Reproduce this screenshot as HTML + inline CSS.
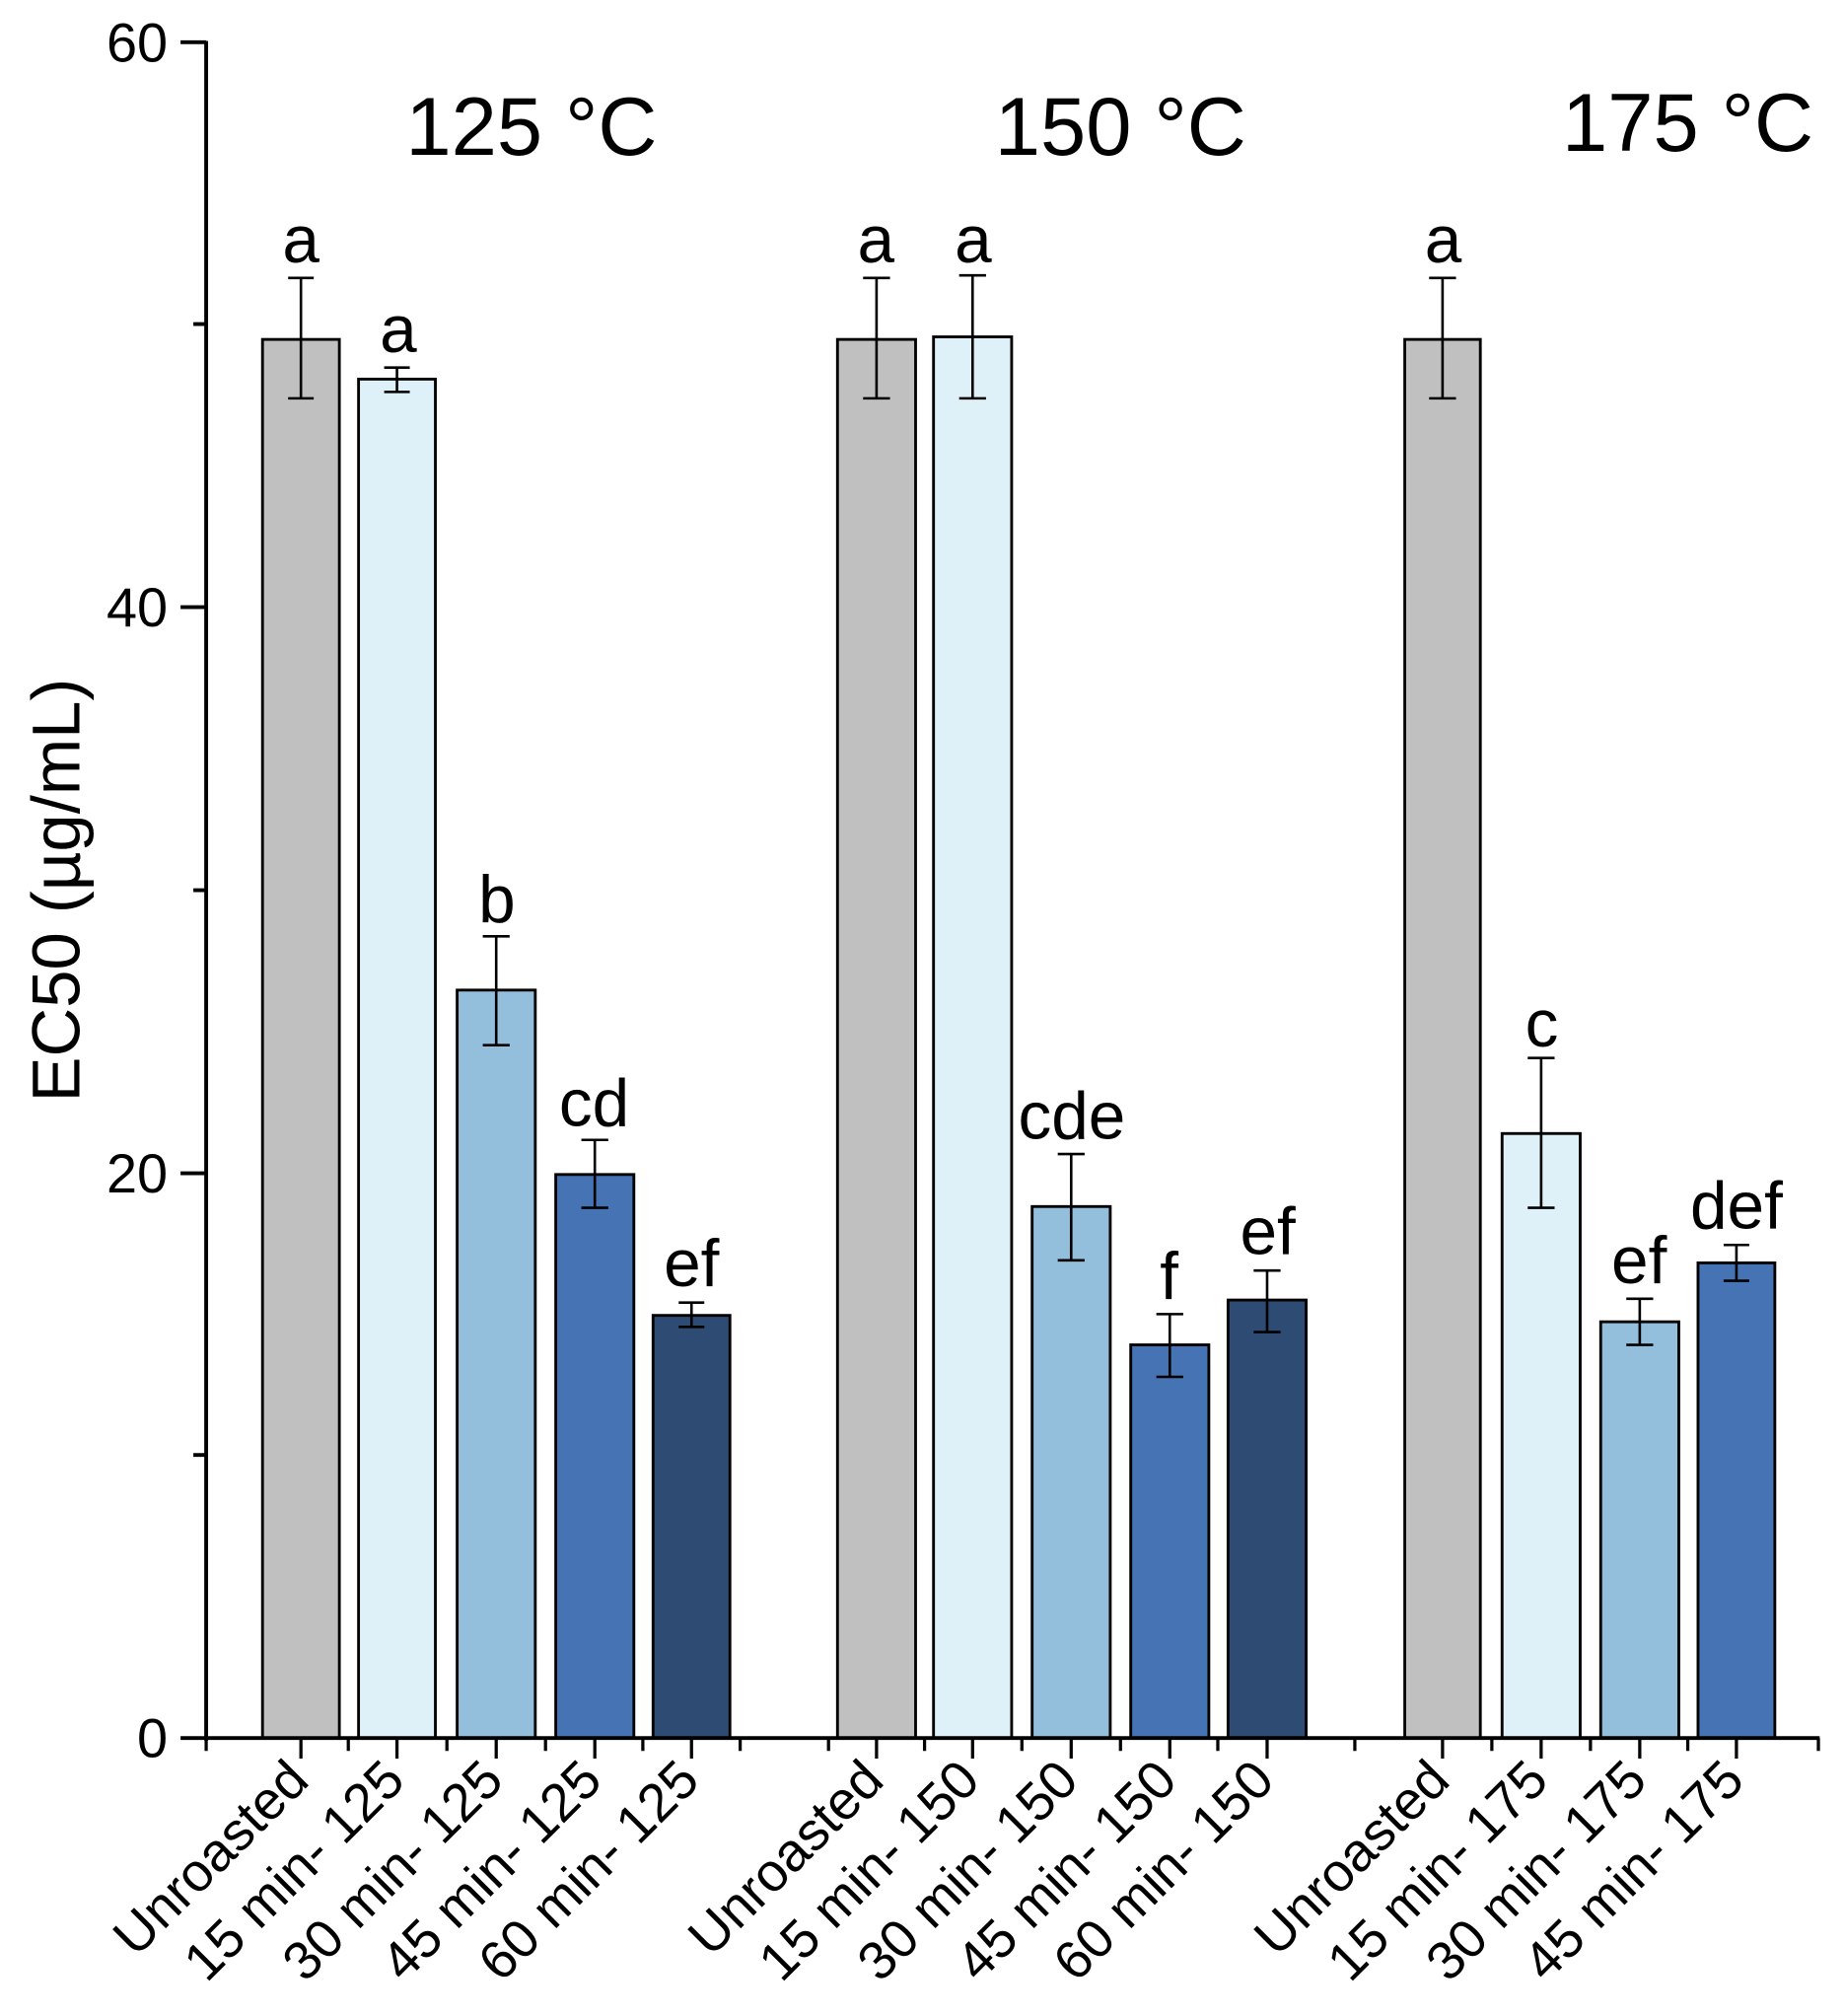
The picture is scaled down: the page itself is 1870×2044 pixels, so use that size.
<!DOCTYPE html>
<html><head><meta charset="utf-8"><style>
html,body{margin:0;padding:0;background:#fff;}
svg{display:block;}
text{font-family:"Liberation Sans",Arial,sans-serif;fill:#000;}
</style></head><body>
<svg width="1870" height="2044" viewBox="0 0 1440 1574" preserveAspectRatio="none" xmlns="http://www.w3.org/2000/svg">
<rect width="1440" height="1574" fill="#fff"/>
<g stroke="#000" stroke-width="2.2">
<rect x="205" y="265" width="60" height="1092" fill="#c0c0c0"/>
<rect x="280" y="296" width="60" height="1061" fill="#dff1f8"/>
<rect x="357" y="773" width="61" height="584" fill="#93bfdc"/>
<rect x="434" y="917" width="61" height="440" fill="#4673b4"/>
<rect x="510" y="1027" width="60" height="330" fill="#2d4b73"/>
<rect x="654" y="265" width="61" height="1092" fill="#c0c0c0"/>
<rect x="729" y="263" width="61" height="1094" fill="#dff1f8"/>
<rect x="806" y="942" width="61" height="415" fill="#93bfdc"/>
<rect x="883" y="1050" width="61" height="307" fill="#4673b4"/>
<rect x="959" y="1015" width="61" height="342" fill="#2d4b73"/>
<rect x="1097" y="265" width="59" height="1092" fill="#c0c0c0"/>
<rect x="1173" y="885" width="61" height="472" fill="#dff1f8"/>
<rect x="1250" y="1032" width="61" height="325" fill="#93bfdc"/>
<rect x="1326" y="986" width="60" height="371" fill="#4673b4"/>
</g>
<g stroke="#000" stroke-width="2">
<path d="M235 217V311M225 217H245M225 311H245"/>
<path d="M310 287V306M300 287H320M300 306H320"/>
<path d="M387.5 731V816M377 731H398M377 816H398"/>
<path d="M464.5 890V943M454 890H475M454 943H475"/>
<path d="M540 1017V1036M530 1017H550M530 1036H550"/>
<path d="M684.5 217V311M674 217H695M674 311H695"/>
<path d="M759.5 215V311M749 215H770M749 311H770"/>
<path d="M836.5 901V984M826 901H847M826 984H847"/>
<path d="M913.5 1026V1075M903 1026H924M903 1075H924"/>
<path d="M989.5 992V1040M979 992H1000M979 1040H1000"/>
<path d="M1126.5 217V311M1116 217H1137M1116 311H1137"/>
<path d="M1203.5 826V943M1193 826H1214M1193 943H1214"/>
<path d="M1280.5 1014V1050M1270 1014H1291M1270 1050H1291"/>
<path d="M1356 972V1000M1346 972H1366M1346 1000H1366"/>
</g>
<g stroke="#000" stroke-width="3" fill="none">
<path d="M161 32V1359"/>
<path d="M141 1357H1421"/>
<path d="M141 33H161M141 474H161M141 916H161"/>
<path d="M151 253H161M151 695H161M151 1136H161"/>
</g>
<g stroke="#000" stroke-width="2.5">
<path d="M235 1357v16M310 1357v16M387.5 1357v16M464.5 1357v16M540 1357v16M684.5 1357v16M759.5 1357v16M836.5 1357v16M913.5 1357v16M989.5 1357v16M1126.5 1357v16M1203.5 1357v16M1280.5 1357v16M1356 1357v16"/>
<path d="M161 1357v10M272 1357v10M349 1357v10M426 1357v10M502 1357v10M578 1357v10M647 1357v10M722 1357v10M798 1357v10M875 1357v10M951 1357v10M1058 1357v10M1165 1357v10M1242 1357v10M1318 1357v10M1420 1357v10"/>
</g>
<g font-size="43" text-anchor="end">
<text x="131" y="48">60</text>
<text x="131" y="489">40</text>
<text x="131" y="931">20</text>
<text x="131" y="1372">0</text>
</g>
<text transform="translate(62,695) rotate(-90)" font-size="53" text-anchor="middle">EC50 (µg/mL)</text>
<g font-size="64" text-anchor="middle">
<text x="415" y="121">125 °C</text>
<text x="875" y="121">150 °C</text>
<text x="1318" y="118">175 °C</text>
</g>
<g font-size="52" text-anchor="middle">
<text x="235" y="205">a</text>
<text x="311" y="275">a</text>
<text x="388" y="720">b</text>
<text x="464" y="879">cd</text>
<text x="540" y="1004">ef</text>
<text x="684" y="205">a</text>
<text x="760" y="205">a</text>
<text x="837" y="889">cde</text>
<text x="913" y="1014">f</text>
<text x="990" y="979">ef</text>
<text x="1127" y="205">a</text>
<text x="1204" y="817">c</text>
<text x="1280" y="1002">ef</text>
<text x="1356" y="959">def</text>
</g>
<g font-size="42" text-anchor="end">
<text transform="translate(243,1392) rotate(-45)">Unroasted</text>
<text transform="translate(318,1392) rotate(-45)">15 min- 125</text>
<text transform="translate(395,1392) rotate(-45)">30 min- 125</text>
<text transform="translate(472,1392) rotate(-45)">45 min- 125</text>
<text transform="translate(548,1392) rotate(-45)">60 min- 125</text>
<text transform="translate(692,1392) rotate(-45)">Unroasted</text>
<text transform="translate(767,1392) rotate(-45)">15 min- 150</text>
<text transform="translate(844,1392) rotate(-45)">30 min- 150</text>
<text transform="translate(921,1392) rotate(-45)">45 min- 150</text>
<text transform="translate(997,1392) rotate(-45)">60 min- 150</text>
<text transform="translate(1134,1392) rotate(-45)">Unroasted</text>
<text transform="translate(1211,1392) rotate(-45)">15 min- 175</text>
<text transform="translate(1288,1392) rotate(-45)">30 min- 175</text>
<text transform="translate(1364,1392) rotate(-45)">45 min- 175</text>
</g>
</svg>
</body></html>
